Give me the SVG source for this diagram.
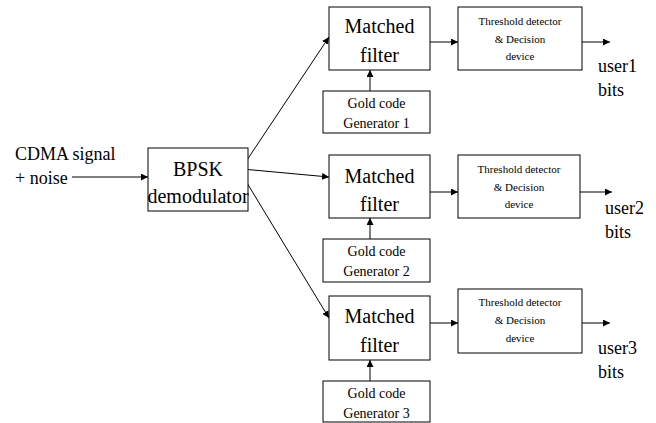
<svg xmlns="http://www.w3.org/2000/svg" width="656" height="423" viewBox="0 0 656 423">
<defs>
<marker id="ah" viewBox="0 0 10 10" refX="10" refY="5" markerWidth="7" markerHeight="7" markerUnits="userSpaceOnUse" orient="auto">
<path d="M0,0 L10,5 L0,10 z" fill="#000"/>
</marker>
<style>
.box{fill:#fff;stroke:#000;stroke-width:1}
.ln{stroke:#000;stroke-width:1;fill:none;marker-end:url(#ah)}
.big{font-size:20px;text-anchor:middle}
.med{font-size:14px;text-anchor:middle}
.sm{font-size:11px;text-anchor:middle}
.lab{font-size:18px}
</style>
</defs>
<rect width="656" height="423" fill="#fff"/>
<g id="connectors">
<line class="ln" x1="72" y1="177" x2="148" y2="177"/>
<line class="ln" x1="247" y1="160" x2="329" y2="37"/>
<line class="ln" x1="242" y1="169" x2="329" y2="177"/>
<line class="ln" x1="247" y1="183" x2="329" y2="318"/>
<line class="ln" x1="370" y1="91" x2="370" y2="70"/>
<line class="ln" x1="370" y1="239" x2="370" y2="218"/>
<line class="ln" x1="370" y1="381" x2="370" y2="360"/>
<line class="ln" x1="430" y1="42" x2="458" y2="42"/>
<line class="ln" x1="430" y1="192" x2="458" y2="192"/>
<line class="ln" x1="430" y1="323" x2="458" y2="323"/>
<line class="ln" x1="582" y1="42" x2="610" y2="42"/>
<line class="ln" x1="580" y1="192" x2="612" y2="192"/>
<line class="ln" x1="582" y1="323" x2="610" y2="323"/>
</g>
<g font-family="Liberation Serif" fill="#000">
<g id="input">
<text class="lab" x="15" y="160">CDMA signal</text>
<text class="lab" x="15" y="184">+ noise</text>
</g>
<g id="bpsk">
<rect class="box" x="148" y="148" width="100" height="63"/>
<text class="big" x="198" y="176">BPSK</text>
<text class="big" x="198" y="203">demodulator</text>
</g>
<g id="mf1">
<rect class="box" x="329" y="7" width="101" height="63"/>
<text class="big" x="379.5" y="33">Matched</text>
<text class="big" x="379.5" y="62">filter</text>
</g>
<g id="gc1">
<rect class="box" x="323" y="91" width="107" height="42"/>
<text class="med" x="376.5" y="108">Gold code</text>
<text class="med" x="376.5" y="128">Generator 1</text>
</g>
<g id="td1">
<rect class="box" x="458" y="7" width="124" height="63"/>
<text class="sm" x="520" y="25">Threshold detector</text>
<text class="sm" x="520" y="43">&amp; Decision</text>
<text class="sm" x="520" y="60">device</text>
</g>
<g id="out1">
<text class="lab" x="598" y="72">user1</text>
<text class="lab" x="598" y="96">bits</text>
</g>
<g id="mf2">
<rect class="box" x="329" y="155" width="101" height="63"/>
<text class="big" x="379.5" y="183">Matched</text>
<text class="big" x="379.5" y="211">filter</text>
</g>
<g id="gc2">
<rect class="box" x="323" y="239" width="107" height="43"/>
<text class="med" x="376.5" y="256">Gold code</text>
<text class="med" x="376.5" y="276">Generator 2</text>
</g>
<g id="td2">
<rect class="box" x="458" y="155" width="122" height="63"/>
<text class="sm" x="519" y="173">Threshold detector</text>
<text class="sm" x="519" y="191">&amp; Decision</text>
<text class="sm" x="519" y="208">device</text>
</g>
<g id="out2">
<text class="lab" x="605" y="214">user2</text>
<text class="lab" x="605" y="238">bits</text>
</g>
<g id="mf3">
<rect class="box" x="329" y="296" width="101" height="64"/>
<text class="big" x="379.5" y="323">Matched</text>
<text class="big" x="379.5" y="352">filter</text>
</g>
<g id="gc3">
<rect class="box" x="323" y="381" width="107" height="41"/>
<text class="med" x="376.5" y="398">Gold code</text>
<text class="med" x="376.5" y="418">Generator 3</text>
</g>
<g id="td3">
<rect class="box" x="458" y="289" width="124" height="64"/>
<text class="sm" x="520" y="306">Threshold detector</text>
<text class="sm" x="520" y="324">&amp; Decision</text>
<text class="sm" x="520" y="342">device</text>
</g>
<g id="out3">
<text class="lab" x="598" y="354">user3</text>
<text class="lab" x="598" y="378">bits</text>
</g>
</g>
</svg>
